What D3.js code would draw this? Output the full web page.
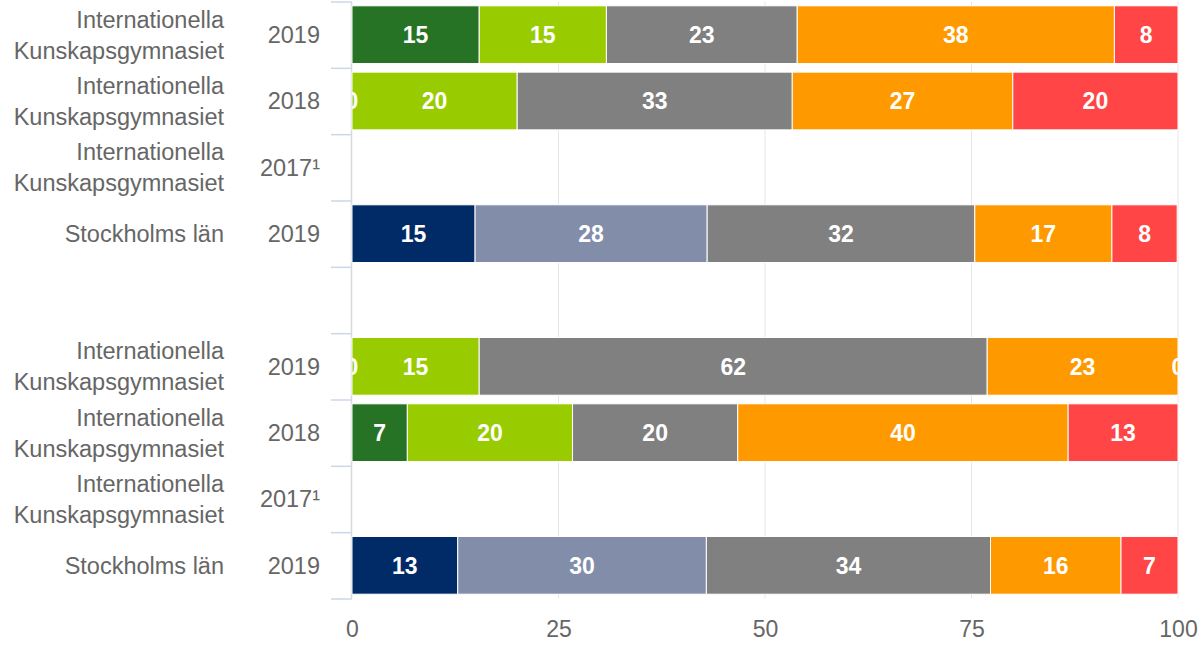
<!DOCTYPE html>
<html>
<head>
<meta charset="utf-8">
<script src="https://cdn.jsdelivr.net/npm/d3@7"></script>
<style>
  body { margin: 0; background: #fff; }
  svg { display: block; font-family: 'Liberation Sans', Arial, Helvetica, sans-serif; }
</style>
</head>
<body>
<div id="chart"></div>
<script>
// rows, top to bottom ('' = spacer row between the two groups)
const rowNames = ['Internationella Kunskapsgymnasiet', 'Internationella Kunskapsgymnasiet', 'Internationella Kunskapsgymnasiet', 'Stockholms län', '',
    'Internationella Kunskapsgymnasiet', 'Internationella Kunskapsgymnasiet', 'Internationella Kunskapsgymnasiet', 'Stockholms län']
const rowYears = ['2019', '2018', '2017¹', '2019', '', '2019', '2018', '2017¹', '2019']

// segment values (percent), null = no data
const seg1 = [15.4, 0, null, 14.9, null, 0, 6.7, null, 12.8]
const seg2 = [15.4, 20, null, 28.1, null, 15.4, 20, null, 30.1]
const seg3 = [23.1, 33.3, null, 32.4, null, 61.5, 20, null, 34.4]
const seg4 = [38.4, 26.7, null, 16.6, null, 23.1, 40, null, 15.8]
const seg5 = [7.7, 20, null, 7.9, null, 0, 13.3, null, 6.9]

const xTicks = [0, 25, 50, 75, 100]

const schoolColors = ['#267326', '#99cc00', '#808080', '#ff9900', '#ff4545']
const countyColors = ['#002b66', '#828daa', '#808080', '#ff9900', '#ff4545']

const svgWidth = 1199
const svgHeight = 645
const margin = { top: 1.5, right: 21, bottom: 46.5, left: 352 }
const width = svgWidth - margin.left - margin.right
const height = svgHeight - margin.top - margin.bottom

const svg = d3.select('#chart').append('svg')
    .attr('width', svgWidth)
    .attr('height', svgHeight)

const g = svg.append('g')
    .attr('transform', 'translate(' + margin.left + ',' + margin.top + ')')

const xScale = d3.scaleLinear().domain([0, 100]).range([0, width])
const rows = d3.range(rowNames.length)
const yBand = d3.scaleBand().domain(rows).range([0, height])
    .paddingInner(0.13).paddingOuter(0.065)
const yEdge = d3.scaleLinear().domain([0, rows.length]).range([0, height])

svg.append('defs').append('clipPath').attr('id', 'plot')
    .append('rect').attr('x', 0).attr('y', 0).attr('width', width + 1).attr('height', height)

// vertical grid
g.append('g').attr('class', 'grid')
    .selectAll('line').data(xTicks.slice(1)).join('line')
    .attr('x1', d => xScale(d)).attr('x2', d => xScale(d))
    .attr('y1', 0).attr('y2', height)
    .attr('stroke', '#e6e6e6').attr('stroke-width', 1)

// category axis: ticks between rows
const yAxis = d3.axisLeft(yEdge).tickValues(d3.range(rows.length + 1)).tickSize(21).tickFormat('')
const yAxisG = g.append('g').call(yAxis)
yAxisG.select('.domain').remove()
yAxisG.selectAll('line').attr('stroke', '#ccd6eb').attr('stroke-width', 1.5)
g.append('line')
    .attr('x1', -0.5).attr('x2', -0.5).attr('y1', 0).attr('y2', height)
    .attr('stroke', '#d8d8d8').attr('stroke-width', 1.5)

// stacked bars
const table = rows.map(i => ({ row: i, s1: seg1[i], s2: seg2[i], s3: seg3[i], s4: seg4[i], s5: seg5[i] }))
const keys = ['s1', 's2', 's3', 's4', 's5']
const stacked = d3.stack().keys(keys).value((d, k) => d[k] || 0)(table)

const barsG = g.append('g')
const labelsG = g.append('g').attr('clip-path', 'url(#plot)')

stacked.forEach(function (layer, k) {
    const pts = layer.filter(p => p.data[layer.key] !== null)
    barsG.selectAll(null).data(pts).join('rect')
        .attr('x', p => xScale(p[0]))
        .attr('width', p => xScale(p[1]) - xScale(p[0]))
        .attr('y', p => yBand(p.data.row))
        .attr('height', yBand.bandwidth())
        .attr('fill', p => (rowNames[p.data.row] === 'Stockholms län' ? countyColors : schoolColors)[k])
        .attr('stroke', '#fff')
        .attr('stroke-width', 1)

    labelsG.selectAll(null).data(pts).join('text')
        .attr('x', p => (xScale(p[0]) + xScale(p[1])) / 2)
        .attr('y', p => yBand(p.data.row) + yBand.bandwidth() / 2)
        .attr('dy', '0.36em')
        .attr('text-anchor', 'middle')
        .attr('fill', '#fff')
        .attr('font-size', '23px')
        .attr('font-weight', 'bold')
        .text(p => Math.round(p.data[layer.key]))
})

// row labels
const labelG = svg.append('g').attr('transform', 'translate(0,' + margin.top + ')')
rows.forEach(function (i) {
    if (!rowNames[i]) return
    const cy = yBand(i) + yBand.bandwidth() / 2
    const words = rowNames[i] === 'Stockholms län' ? [rowNames[i]] : rowNames[i].split(' ')
    const t = labelG.append('text')
        .attr('x', 224).attr('text-anchor', 'end')
        .attr('fill', '#666').attr('font-size', '23.5px')
    words.forEach(function (w, j) {
        t.append('tspan').attr('x', 224)
            .attr('y', cy + (j - (words.length - 1) / 2) * 31)
            .attr('dy', '0.36em')
            .text(w)
    })
    labelG.append('text')
        .attr('x', 320).attr('y', cy).attr('dy', '0.36em')
        .attr('text-anchor', 'end')
        .attr('fill', '#666').attr('font-size', '23.5px')
        .text(rowYears[i])
})

// x axis
const xAxis = d3.axisBottom(xScale).tickValues(xTicks).tickSize(0).tickPadding(22)
const xAxisG = g.append('g').attr('transform', 'translate(0,' + height + ')').call(xAxis)
xAxisG.select('.domain').remove()
xAxisG.selectAll('text').attr('fill', '#666').attr('font-size', '23px')
    .attr('font-family', "'Liberation Sans', Arial, sans-serif")
</script>
</body>
</html>
